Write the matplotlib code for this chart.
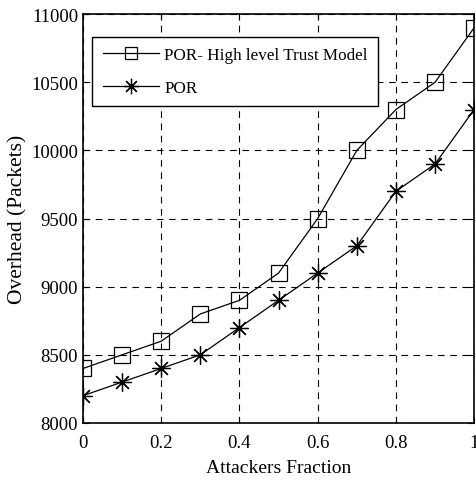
import matplotlib
matplotlib.use("Agg")
import matplotlib.pyplot as plt

# Data
fraction = [0, 0.1, 0.2, 0.3, 0.4, 0.5, 0.6, 0.7, 0.8, 0.9, 1.0]
por_trust = [8400, 8500, 8600, 8800, 8900, 9100, 9500, 10000, 10300, 10500, 10900]
por = [8200, 8300, 8400, 8500, 8700, 8900, 9100, 9300, 9700, 9900, 10300]

x_ticks = [0, 0.2, 0.4, 0.6, 0.8, 1]
x_tick_labels = ["0", "0.2", "0.4", "0.6", "0.8", "1"]
y_ticks = [8000, 8500, 9000, 9500, 10000, 10500, 11000]

plt.rcParams['font.family'] = ['Liberation Serif', 'DejaVu Serif']

fig = plt.figure(figsize=(4.77, 4.89), dpi=100)
ax = fig.add_axes([0.174, 0.133, 0.82, 0.836])

ax.plot(fraction, por_trust, color='black', linewidth=0.9, marker='s', markersize=11,
        markerfacecolor='none', markeredgecolor='black', markeredgewidth=0.9,
        label="POR- High level Trust Model")
ax.plot(fraction, por, color='black', linewidth=0.9, marker=(8, 2, 0), markersize=13,
        markeredgewidth=0.9, label="POR")

ax.set_xlim(0, 1)
ax.set_ylim(8000, 11000)
ax.set_xticks(x_ticks)
ax.set_xticklabels(x_tick_labels)
ax.set_yticks(y_ticks)
ax.tick_params(direction='in', top=True, right=True, labelsize=13.5, length=4)
ax.tick_params(axis='x', pad=8)

ax.grid(True, color='black', linestyle=(0, (6, 5)), linewidth=0.8)
for s in ax.spines.values():
    s.set_linewidth(1.2)

ax.set_xlabel("Attackers Fraction", fontsize=14, labelpad=6)
ax.set_ylabel("Overhead (Packets)", fontsize=15.5, labelpad=3)

leg = ax.legend(loc='upper left', bbox_to_anchor=(0.024, 0.944), fontsize=12.3,
                frameon=True, fancybox=False, framealpha=1, edgecolor='black',
                handlelength=3.3, borderpad=0.6, labelspacing=0.95, handletextpad=0.3,
                borderaxespad=0, markerscale=0.85)
leg.get_frame().set_linewidth(1.0)

fig.savefig("out.png", dpi=100)
